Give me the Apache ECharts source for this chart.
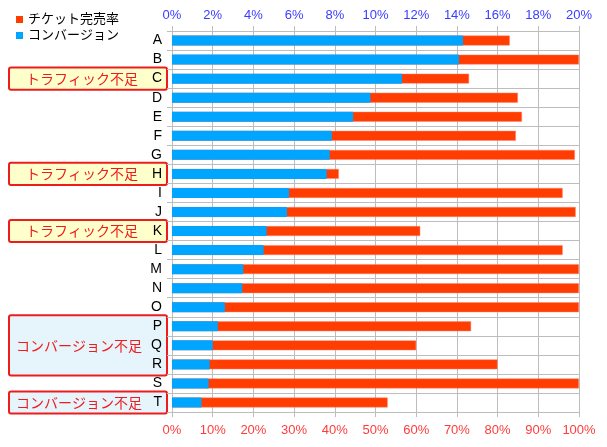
<!DOCTYPE html>
<html><head><meta charset="utf-8">
<script src="https://cdn.jsdelivr.net/npm/echarts@6/dist/echarts.min.js"></script>
<style>html,body{margin:0;padding:0;background:#fff}#c{width:607px;height:447px}</style>
</head><body><div id="c"></div>
<script>
var categories = ['A','B','C','D','E','F','G','H','I','J','K','L','M','N','O','P','Q','R','S','T'];
var conversion = [14.3,14.1,11.3,9.75,8.9,7.85,7.75,7.6,5.75,5.65,4.65,4.5,3.5,3.45,2.6,2.25,2.0,1.85,1.8,1.45];
var soldOut = [83,100,73,85,86,84.5,99,41,96,99.2,61,96,100,100,100,73.5,60,80,100,53];
var topTicks = {min:0, max:20, interval:2};
var bottomTicks = {min:0, max:100, interval:10};
var notes = [
  {from:'C', to:'C', text:'トラフィック不足', fill:'#ffffcc'},
  {from:'H', to:'H', text:'トラフィック不足', fill:'#ffffcc'},
  {from:'K', to:'K', text:'トラフィック不足', fill:'#ffffcc'},
  {from:'P', to:'R', text:'コンバージョン不足', fill:'#e6f4fc'},
  {from:'T', to:'T', text:'コンバージョン不足', fill:'#e6f4fc'}
];
var FONT = 'Liberation Sans, "Noto Sans CJK JP", sans-serif';
var chart = echarts.init(document.getElementById('c'));
var gridColor = '#bdbdbd';
chart.setOption({
  animation:false,
  textStyle:{fontFamily:FONT},
  legend:{
    orient:'vertical', left:11, top:8, itemWidth:7, itemHeight:7, itemGap:3, padding:5,
    icon:'rect', itemStyle:{borderWidth:0},
    textStyle:{fontSize:13, color:'#000', fontFamily:FONT},
    data:['チケット完売率','コンバージョン']
  },
  grid:{left:172, right:28, top:31, bottom:35, containLabel:false},
  xAxis:[
    {type:'value', position:'top', min:topTicks.min, max:topTicks.max, interval:topTicks.interval,
     axisLabel:{formatter:'{value}%', color:'#3b3bff', fontSize:13, margin:9},
     axisTick:{show:true, length:5, lineStyle:{color:gridColor}},
     axisLine:{show:false},
     splitLine:{show:true, lineStyle:{color:gridColor, width:1}}},
    {type:'value', position:'bottom', min:bottomTicks.min, max:bottomTicks.max, interval:bottomTicks.interval,
     axisLabel:{formatter:'{value}%', color:'#ff3b3b', fontSize:13, margin:12},
     axisTick:{show:true, length:5, lineStyle:{color:gridColor}},
     axisLine:{show:true, lineStyle:{color:gridColor}},
     splitLine:{show:false}}
  ],
  yAxis:{type:'category', data:categories, inverse:true,
    axisLabel:{color:'#000', fontSize:14, margin:10, fontFamily:FONT},
    axisTick:{show:true, length:5, interval:0, lineStyle:{color:gridColor}},
    axisLine:{show:true, lineStyle:{color:gridColor}},
    splitLine:{show:true, interval:0, lineStyle:{color:gridColor}}
  },
  series:[
    {name:'チケット完売率', type:'bar', xAxisIndex:1, data:soldOut, barWidth:10, barGap:'-100%',
     itemStyle:{color:'#ff3d00', borderColor:'rgba(255,130,110,0.8)', borderWidth:0.6}, z:2},
    {name:'コンバージョン', type:'bar', xAxisIndex:0, data:conversion, barWidth:10, barGap:'-100%',
     itemStyle:{color:'#00a5ff'}, z:3}
  ]
});
var rowH = chart.convertToPixel({yAxisIndex:0}, 'B') - chart.convertToPixel({yAxisIndex:0}, 'A');
var els = notes.map(function(n){
  var y1 = chart.convertToPixel({yAxisIndex:0}, n.from) - rowH/2 - 1.5;
  var y2 = chart.convertToPixel({yAxisIndex:0}, n.to) + rowH/2 + 1.5;
  return {type:'group', z:-5, children:[
    {type:'rect', z:-5, shape:{x:9, y:y1, width:158, height:y2-y1, r:2},
     style:{fill:n.fill, stroke:'#ee1c1c', lineWidth:2}},
    {type:'text', z:-4, style:{x:n.text.length===8?26:16, y:(y1+y2)/2, text:n.text, fill:'#ee1c1c',
     font:'14px "Noto Sans CJK JP", sans-serif', verticalAlign:'middle', textVerticalAlign:'middle'}}
  ]};
});
chart.setOption({graphic:{elements:els}});
</script></body></html>
